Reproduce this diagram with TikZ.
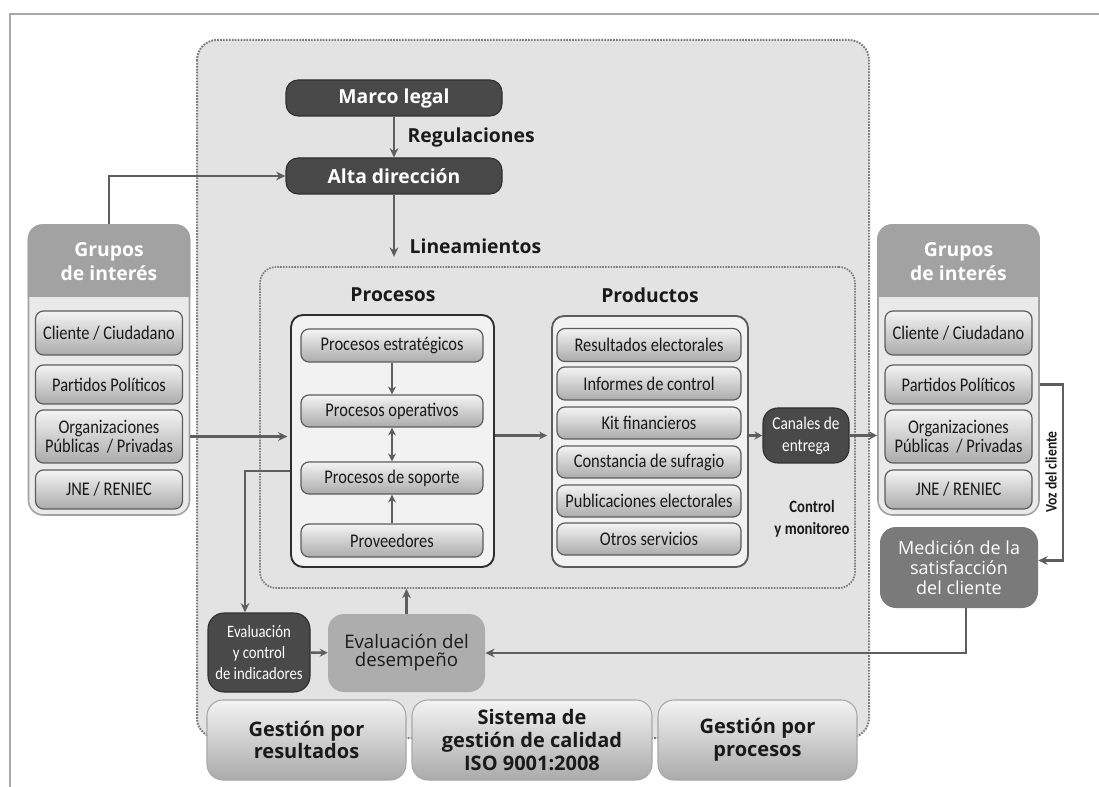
\documentclass[tikz,border=0pt]{standalone}
\usepackage{fontspec}
\setmainfont{Open Sans}
\newfontfamily\narrowfont[FakeStretch=0.85]{Carlito}
\usetikzlibrary{arrows.meta,calc}
\definecolor{orgInk}{HTML}{1A1A1A}
\definecolor{orgDark}{HTML}{494949}
\definecolor{orgDarkLine}{HTML}{2E2E2E}
\definecolor{orgHead}{HTML}{A2A2A2}
\definecolor{orgPanel}{HTML}{E3E3E3}
\definecolor{orgGroup}{HTML}{EAEAEA}
\definecolor{orgItemTop}{HTML}{F4F4F4}
\definecolor{orgItemBot}{HTML}{ABABAB}
\definecolor{orgItemLine}{HTML}{5C5C5C}
\definecolor{orgArrow}{HTML}{5E5E5E}
\definecolor{orgDotted}{HTML}{7E7E7E}
\definecolor{orgMid}{HTML}{7A7A7A}
\definecolor{orgSoft}{HTML}{ADADAD}
\definecolor{orgFrame}{HTML}{A8A8A8}
\tikzset{
  every picture/.style={font=\fontsize{13}{15}\selectfont, text=orgInk},
  wh/.style 2 args={minimum width=#1*0.75pt, minimum height=#2*0.75pt},
  org dark/.style={fill=orgDark, draw=orgDarkLine, line width=0.8pt,
    rounded corners=9pt, text=white, align=center, inner sep=0pt},
  org item/.style={top color=orgItemTop, bottom color=orgItemBot,
    draw=orgItemLine, line width=0.9pt, rounded corners=6pt, align=center,
    inner sep=0pt, font=\narrowfont\fontsize{14.5}{14.5}\selectfont},
  org group/.style={fill=orgGroup, draw=orgHead, line width=1.2pt,
    rounded corners=11pt, inner sep=0pt},
  org head/.style={text=white, align=center,
    font=\bfseries\fontsize{14.5}{18}\selectfont},
  org frame/.style={fill=white!55!orgPanel, draw=#1, line width=1.4pt,
    rounded corners=9pt, inner sep=0pt},
  org base/.style={top color=white!60!orgPanel, bottom color=orgPanel!75!black,
    draw=orgFrame, line width=0.8pt, rounded corners=12pt, align=center,
    inner sep=0pt, font=\bfseries\fontsize{15}{17}\selectfont},
  org label/.style={font=\bfseries\fontsize{14.5}{16}\selectfont},
  org arrow/.style={-{Stealth[length=7pt,width=6.5pt]}, draw=orgArrow,
    line width=2.1pt},
  org small arrow/.style={-{Stealth[length=6pt,width=6pt]}, draw=orgArrow,
    line width=1.9pt}
}
\begin{document}
\begin{tikzpicture}[x=0.75pt,y=-0.75pt]
  \useasboundingbox (0,0) rectangle (1099,787);
  % page frame and background panel
  \draw[orgFrame, line width=1.4pt] (10,787) -- (10,14) -- (1099,14);
  \draw[fill=orgPanel, draw=orgDotted, line width=1.5pt,
    dash pattern=on 1.3pt off 0.9pt, rounded corners=15pt] (197,40) rectangle (869,738);

  % direction
  \node[org dark, wh={216}{36}, font=\bfseries\fontsize{14.5}{16}\selectfont] (marco) at (394,98) {Marco legal};
  \node[org dark, wh={216}{36}, font=\bfseries\fontsize{14.5}{16}\selectfont] (alta) at (394,176) {Alta dirección};
  \node[org label, anchor=west] (regul) at (403,137) {Regulaciones};
  \node[org label, anchor=west] (linea) at (405,246) {Lineamientos};

  % core
  \node[draw=orgDotted, line width=1.3pt, dash pattern=on 1.2pt off 0.9pt,
    rounded corners=12pt, wh={595}{321}] (nucleo) at (557.5,427.5) {};
  \node[font=\bfseries\fontsize{14.5}{16}\selectfont] (titproc) at (393,295) {Procesos};
  \node[font=\bfseries\fontsize{14.5}{16}\selectfont] (titprod) at (650,295) {Productos};
  \node[org frame=orgDarkLine, wh={203}{252}] (procesos) at (392.5,441) {};
  \node[org frame=orgItemLine, wh={196}{251}] (productos) at (650,441.5) {};

  \node[org item, wh={182}{33}] (estr) at (392,345.5) {Procesos estratégicos};
  \node[org item, wh={182}{32}] (oper) at (392,411) {Procesos operativos};
  \node[org item, wh={182}{32}] (sop) at (392,478) {Procesos de soporte};
  \node[org item, wh={182}{33}] (prov) at (392,540.5) {Proveedores};

  \node[org item, wh={184}{33}] (result) at (649,345) {Resultados electorales};
  \node[org item, wh={184}{33}] (inform) at (649,383.5) {Informes de control};
  \node[org item, wh={184}{32}] (kit) at (649,423) {Kit financieros};
  \node[org item, wh={184}{32}] (const) at (649,462) {Constancia de sufragio};
  \node[org item, wh={184}{32}] (public) at (649,501) {Publicaciones electorales};
  \node[org item, wh={184}{32}] (otros) at (649,539) {Otros servicios};

  \node[org dark, wh={86}{55}, rounded corners=11pt,
    font=\narrowfont\fontsize{13.5}{16.5}\selectfont] (canales) at (806,435.5) {Canales de\\entrega};
  \node[align=center, font=\narrowfont\bfseries\fontsize{13}{16.5}\selectfont] (control) at (812,519) {Control\\y monitoreo};

  % stakeholders
  \foreach \side/\cx in {L/109,R/958.5}{
    \node[org group, wh={161}{290}] (grupos\side) at (\cx,370) {};
    \begin{scope}
      \clip (\cx-82,223) rectangle (\cx+82,297);
      \fill[orgHead, rounded corners=11pt] (grupos\side.north west) rectangle (grupos\side.south east);
    \end{scope}
    \node[org head] (tit\side) at (\cx,262) {Grupos\\de interés};
    \node[org item, wh={147}{44}] (cli\side) at (\cx,333) {Cliente / Ciudadano};
    \node[org item, wh={147}{39}] (part\side) at (\cx,384.5) {Partidos Políticos};
    \node[org item, wh={147}{53}] (orga\side) at (\cx,436.5) {Organizaciones\\Públicas~ / Privadas};
    \node[org item, wh={147}{39}] (jne\side) at (\cx,489.5) {JNE / RENIEC};
  }

  % evaluation
  \node[fill=orgMid, rounded corners=12pt, wh={158}{81}, text=white, align=center,
    font=\fontsize{13.5}{15}\selectfont] (medicion) at (959,567.5) {Medición de la\\satisfacción\\del cliente};
  \node[org dark, wh={102}{79}, rounded corners=12pt,
    font=\narrowfont\fontsize{13}{16}\selectfont] (evalctrl) at (259,652.5) {Evaluación\\y control\\de indicadores};
  \node[fill=orgSoft, rounded corners=12pt, wh={157}{78}, align=center,
    font=\fontsize{14}{13.5}\selectfont] (desemp) at (406.5,653) {Evaluación del\\desempeño};

  \node[org base, wh={199}{80}] (gresult) at (306.5,740) {Gestión por\\resultados};
  \node[org base, wh={240}{80}] (sistema) at (532,740) {Sistema de\\gestión de calidad\\ISO 9001:2008};
  \node[org base, wh={199}{80}] (gproc) at (757.5,740) {Gestión por\\procesos};

  % connectors
  \draw[org arrow] (marco) -- (alta);
  \draw[org arrow, shorten >=7pt] (alta) -- (alta |- nucleo.north);
  \draw[org arrow] (gruposL.north) |- (alta.west);
  \draw[org arrow, shorten >=2pt] (gruposL.east |- orgaL) -- (procesos.west |- orgaL);
  \draw[org small arrow] (estr) -- (oper);
  \draw[org small arrow, {Stealth[length=6pt,width=6pt]}-{Stealth[length=6pt,width=6pt]}] (oper) -- (sop);
  \draw[org small arrow] (prov) -- (sop);
  \draw[org small arrow, shorten >=3pt] (procesos.east |- canales) -- (productos.west |- canales);
  \draw[org small arrow] (productos.east |- canales) -- (canales.west);
  \draw[org small arrow] (canales.east) -- (gruposR.west |- canales);
  \draw[org arrow, line width=1.6pt] (gruposR.east |- partR) -- ++(23,0) |- ($(medicion.east)+(0,-7)$);
  \node[rotate=90, font=\narrowfont\bfseries\fontsize{12}{12}\selectfont] (voz) at (1051,472) {Voz del cliente};
  \draw[org arrow, line width=1.6pt] ($(medicion.south)+(7,0)$) |- (desemp.east);
  \draw[org small arrow] (evalctrl) -- (desemp);
  \draw[org arrow] (desemp) -- (desemp |- nucleo.south);
  \draw[org arrow] ($(procesos.west)+(0,30)$) -| ($(evalctrl.north)+(-14,0)$);
\end{tikzpicture}
\end{document}
